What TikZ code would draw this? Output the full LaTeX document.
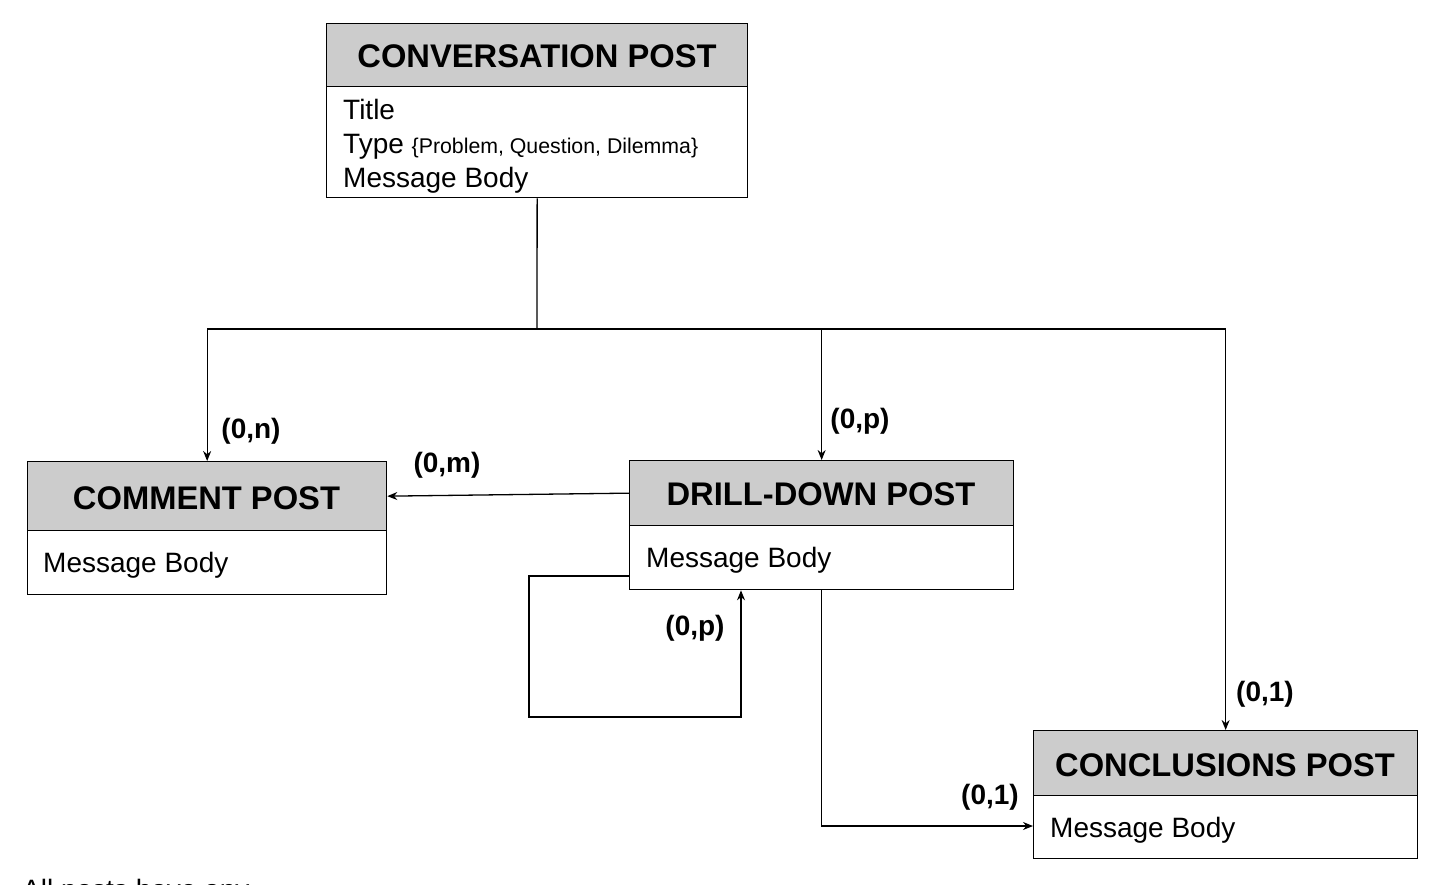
\documentclass[tikz,border=0pt]{standalone}
\usepackage{fontspec}
\setmainfont{Liberation Sans}
\usetikzlibrary{arrows.meta,calc}
\definecolor{headgray}{HTML}{CCCCCC}
\begin{document}
\begin{tikzpicture}[x=1pt,y=-1pt,
 boxbody/.style={draw, line width=1.3pt, fill=white, anchor=north west, inner sep=0pt},
 boxhead/.style={draw, line width=1.3pt, fill=headgray, anchor=north west, inner sep=0pt},
 headtxt/.style={font=\fontsize{32.7}{36}\selectfont\bfseries, anchor=base, inner sep=0pt},
 bodytxt/.style={font=\fontsize{28}{34}\selectfont, anchor=base west, inner sep=0pt},
 card/.style={font=\fontsize{28}{32}\selectfont\bfseries, anchor=base, inner sep=0pt},
 line/.style={line width=1.3pt},
 conn/.style={line width=1.3pt, -{Stealth[length=10pt,width=8pt]}}]
\clip (0,0) rectangle (1440,884);
\fill[white] (0,0) rectangle (1440,884);

% Conversation post
\node[boxbody, minimum width=421pt, minimum height=174pt] (conv) at (326,23) {};
\node[boxhead, minimum width=421pt, minimum height=63pt] (convh) at (326,23) {};
\node[headtxt] (convt) at (537,67) {CONVERSATION POST};
\node[bodytxt] (convb1) at (343,119) {Title};
\node[bodytxt] (convb2) at (343,153) {Type {\fontsize{21.3}{24}\selectfont\{Problem, Question, Dilemma\}}};
\node[bodytxt] (convb3) at (343,187) {Message Body};

% Comment post
\node[boxbody, minimum width=359pt, minimum height=133pt] (comm) at (27,461) {};
\node[boxhead, minimum width=359pt, minimum height=69pt] (commh) at (27,461) {};
\node[headtxt] (commt) at (206.5,509) {COMMENT POST};
\node[bodytxt] (commb) at (43,572) {Message Body};

% Drill-down post
\node[boxbody, minimum width=384pt, minimum height=129pt] (drill) at (629,460) {};
\node[boxhead, minimum width=384pt, minimum height=65pt] (drillh) at (629,460) {};
\node[headtxt] (drillt) at (821,505) {DRILL-DOWN POST};
\node[bodytxt] (drillb) at (646,567) {Message Body};

% Conclusions post
\node[boxbody, minimum width=384pt, minimum height=128pt] (concl) at (1033,730) {};
\node[boxhead, minimum width=384pt, minimum height=65pt] (conclh) at (1033,730) {};
\node[headtxt] (conclt) at (1225,776) {CONCLUSIONS POST};
\node[bodytxt] (conclb) at (1050,837) {Message Body};

% connectors
\coordinate (j) at (537,329);
\draw[line] (conv.south) -- (j);
\draw[conn] (j) -| (comm.north);
\draw[conn] (j) -| (drill.north);
\draw[conn] (j) -| (concl.north);
\draw[conn] (drillh.west) -- (commh.east);
\draw[conn] ($(drill.north west)+(0,116)$) -| (529,717) -| ($(drill.south west)+(112,0)$);
\draw[conn] (drill.south) |- ($(concl.north west)+(0,96)$);

% cardinalities
\node[card] (c1) at (251,438) {(0,n)};
\node[card] (c2) at (447,472) {(0,m)};
\node[card] (c3) at (860,428) {(0,p)};
\node[card] (c4) at (695,635) {(0,p)};
\node[card] (c5) at (1265,701) {(0,1)};
\node[card] (c6) at (990,804) {(0,1)};

% note (cut off)
\node[bodytxt] (note) at (22,899) {All posts have any};
\end{tikzpicture}
\end{document}
